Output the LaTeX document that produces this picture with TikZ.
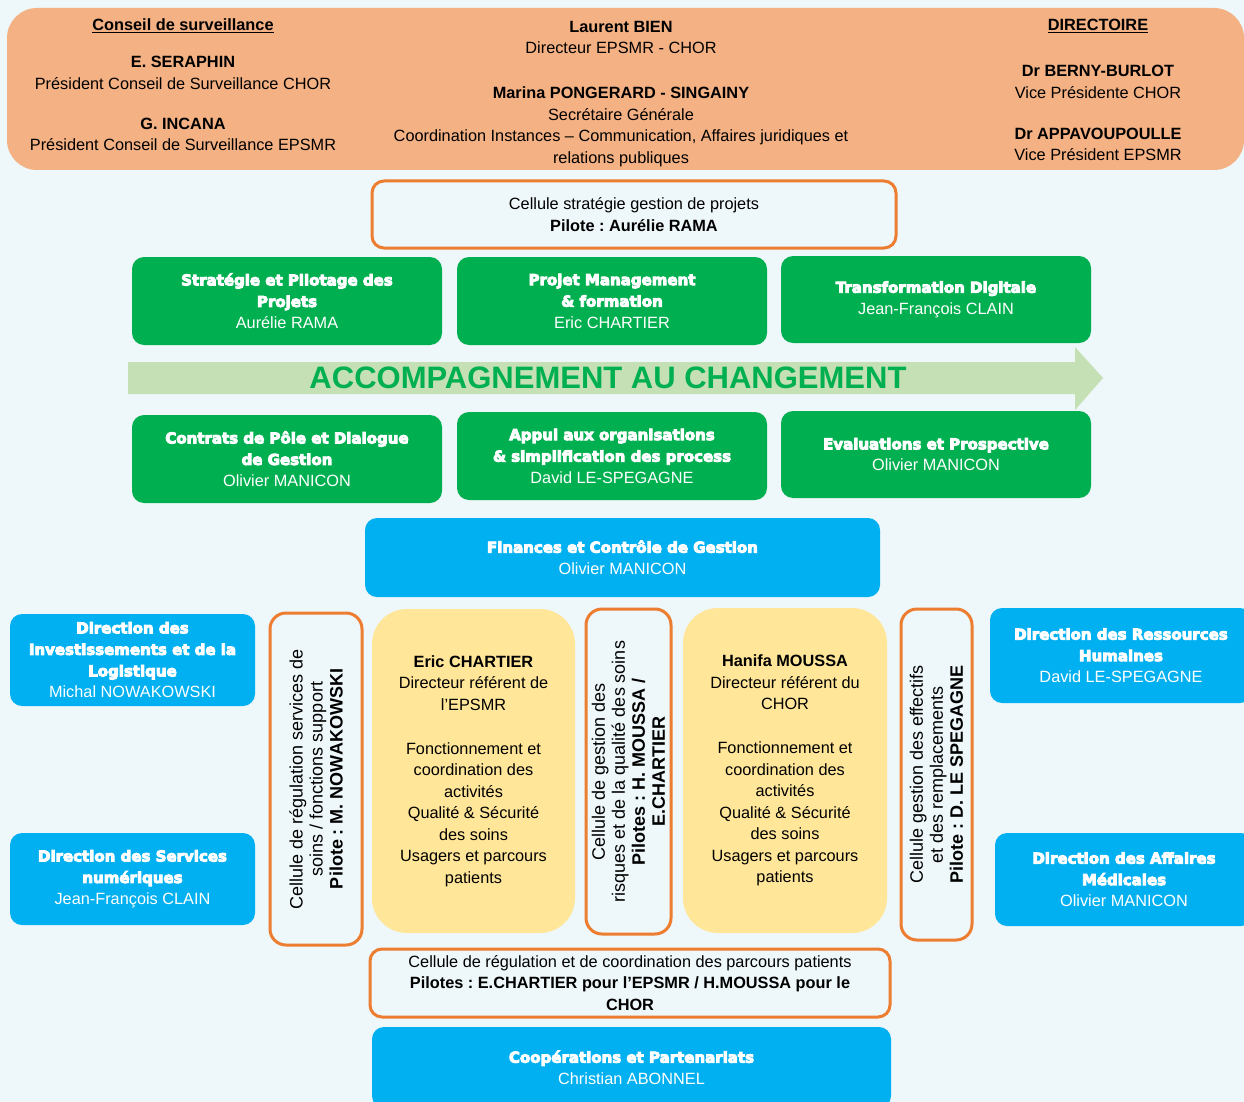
\documentclass[tikz,border=0pt]{standalone}
\usepackage{fontspec}
\setmainfont{Liberation Sans}
\newfontfamily\heavyfont{DejaVu Sans}[BoldFeatures={FakeBold=6}]
\frenchspacing

\definecolor{fond}{RGB}{238,247,249}
\definecolor{saumon}{HTML}{F4B183}
\definecolor{orangec}{HTML}{ED7D31}
\definecolor{vertc}{HTML}{00B050}
\definecolor{vertp}{HTML}{C5E0B4}
\definecolor{bleuc}{HTML}{00B0F0}
\definecolor{jaunec}{HTML}{FFE699}

\newcommand{\hv}[1]{{\heavyfont\bfseries\fontsize{15}{21.5}\selectfont #1}}

\begin{document}
\begin{tikzpicture}
  [x=1pt,y=-1pt,
   txt/.style={align=center,font=\fontsize{16.3}{21.5}\selectfont},
   pole/.style={txt,rounded corners=12,inner sep=0pt,text=white},
   vertbox/.style={pole,fill=vertc,minimum width=310,minimum height=88},
   bleubox/.style={pole,fill=bleuc},
   jaunebox/.style={txt,fill=jaunec,rounded corners=35,inner sep=0pt,minimum width=204,minimum height=325},
   cellh/.style={txt,draw=orangec,line width=3pt,rounded corners=12,inner sep=0pt},
   cellv/.style={cellh,rotate=90,rounded corners=16,font=\fontsize{18}{20}\selectfont}]
  \useasboundingbox (0,0) rectangle (1244,1102);
  \clip (0,0) rectangle (1244,1102);
  \fill[fond] (0,0) rectangle (1244,1102);

  % bandeau du haut
  \fill[saumon,rounded corners=30] (7,8) rectangle (1244,170);
  \node[txt] (conseil) at (183,85) {\textbf{\underline{Conseil de surveillance}}\\[15.5pt]
    \textbf{E. SERAPHIN}\\ Président Conseil de Surveillance CHOR\\[18.5pt]
    \textbf{G. INCANA}\\ Président Conseil de Surveillance EPSMR};
  \node[txt] (direction) at (621,94) {\textbf{Laurent BIEN}\\ Directeur EPSMR - CHOR\\[23.5pt]
    \textbf{Marina PONGERARD - SINGAINY}\\ Secrétaire Générale\\
    Coordination Instances – Communication, Affaires juridiques et\\ relations publiques};
  \node[txt] (directoire) at (1098,90) {\textbf{\underline{DIRECTOIRE}}\\[24.5pt]
    \textbf{Dr BERNY-BURLOT}\\ Vice Présidente CHOR\\[19.5pt]
    \textbf{Dr APPAVOUPOULLE}\\ Vice Président EPSMR};

  \node[cellh,minimum width=524,minimum height=67] (cstrat) at (634,214.5)
    {Cellule stratégie gestion de projets\\ \textbf{Pilote : Aurélie RAMA}};

  % accompagnement au changement
  \node[vertbox] (strat) at (287,301) {\hv{Stratégie et Pilotage des}\\ \hv{Projets}\\ Aurélie RAMA};
  \node[vertbox] (projet) at (612,301) {\hv{Projet Management}\\ \hv{\& formation}\\ Eric CHARTIER};
  \node[vertbox,minimum height=87] (digital) at (936,299.5) {\hv{Transformation Digitale}\\ Jean-François CLAIN};
  \fill[vertp] (128,362) -- (1075,362) -- (1075,347) -- (1103,378) -- (1075,410) -- (1075,394) -- (128,394) -- cycle;
  \node[font=\bfseries\fontsize{31}{31}\selectfont,text=vertc] (accomp) at (608,378) {ACCOMPAGNEMENT AU CHANGEMENT};
  \node[vertbox] (contrats) at (287,459) {\hv{Contrats de Pôle et Dialogue}\\ \hv{de Gestion}\\ Olivier MANICON};
  \node[vertbox] (appui) at (612,456) {\hv{Appui aux organisations}\\ \hv{\& simplification des process}\\ David LE-SPEGAGNE};
  \node[vertbox,minimum height=87] (evalu) at (936,454.5) {\hv{Evaluations et Prospective}\\ Olivier MANICON};

  \node[bleubox,minimum width=515,minimum height=79] (finances) at (622.5,557.5)
    {\hv{Finances et Contrôle de Gestion}\\ Olivier MANICON};

  % directions fonctionnelles
  \node[bleubox,minimum width=245,minimum height=92] (dil) at (132.5,660)
    {\hv{Direction des}\\ \hv{Investissements et de la}\\ \hv{Logistique}\\ Michal NOWAKOWSKI};
  \node[bleubox,minimum width=245,minimum height=92] (dsn) at (132.5,879)
    {\hv{Direction des Services}\\ \hv{numériques}\\ Jean-François CLAIN};
  \node[bleubox,minimum width=262,minimum height=95] (drh) at (1121,655.5)
    {\hv{Direction des Ressources}\\ \hv{Humaines}\\ David LE-SPEGAGNE};
  \node[bleubox,minimum width=258,minimum height=93] (dam) at (1124,879.5)
    {\hv{Direction des Affaires}\\ \hv{Médicales}\\ Olivier MANICON};

  % cellules verticales
  \node[cellv,minimum width=332,minimum height=92] (creg) at (316,779)
    {Cellule de régulation services de\\ soins / fonctions support\\ \textbf{Pilote : M. NOWAKOWSKI}};
  \node[cellv,minimum width=325,minimum height=85] (crisk) at (628.5,771.5)
    {Cellule de gestion des\\ risques et de la qualité des soins\\ \textbf{Pilotes : H. MOUSSA /}\\ \textbf{E.CHARTIER}};
  \node[cellv,minimum width=331,minimum height=71] (ceff) at (936.5,774.5)
    {Cellule gestion des effectifs\\ et des remplacements\\ \textbf{Pilote : D. LE SPEGAGNE}};

  % directeurs referents
  \node[jaunebox,minimum width=203,minimum height=324] (epsmr) at (473.5,771)
    {\textbf{Eric CHARTIER}\\ Directeur référent de\\ l’EPSMR\\[22.5pt]
     Fonctionnement et\\ coordination des\\ activités\\ Qualité \& Sécurité\\ des soins\\ Usagers et parcours\\ patients};
  \node[jaunebox] (chor) at (785,770.5)
    {\textbf{Hanifa MOUSSA}\\ Directeur référent du\\ CHOR\\[22.5pt]
     Fonctionnement et\\ coordination des\\ activités\\ Qualité \& Sécurité\\ des soins\\ Usagers et parcours\\ patients};

  \node[cellh,minimum width=520,minimum height=68] (cparc) at (630,983)
    {Cellule de régulation et de coordination des parcours patients\\
     \textbf{Pilotes : E.CHARTIER pour l’EPSMR / H.MOUSSA pour le}\\ \textbf{CHOR}};
  \node[bleubox,minimum width=519,minimum height=81] (coop) at (631.5,1067.5)
    {\hv{Coopérations et Partenariats}\\ Christian ABONNEL};
\end{tikzpicture}
\end{document}
